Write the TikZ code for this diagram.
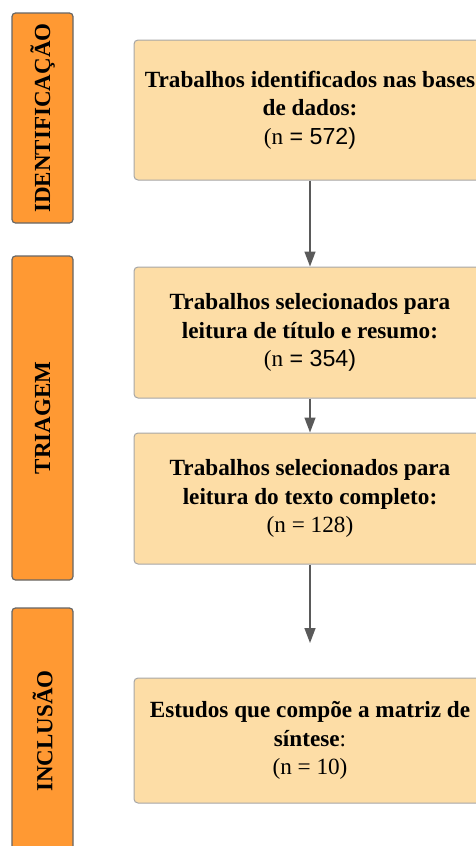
\documentclass[tikz,border=0pt]{standalone}
\usepackage{fontspec}
\setmainfont{Liberation Serif}
\newfontfamily\sansf{Liberation Sans}
\usetikzlibrary{arrows.meta}
\definecolor{phase}{HTML}{FF9933}
\definecolor{phaseline}{HTML}{666666}
\definecolor{boxfill}{HTML}{FDDDA6}
\definecolor{boxline}{HTML}{A6A6A6}
\definecolor{arrowc}{HTML}{5A5A5A}
\tikzset{
  phasebox/.style={draw=phaseline, fill=phase, line width=1.2pt, rounded corners=3.5pt,
    rotate=90, minimum height=61pt, inner sep=0pt,
    font=\fontsize{23}{28}\selectfont\bfseries},
  stagebox/.style={draw=boxline, fill=boxfill, line width=1pt, rounded corners=4pt,
    minimum width=352pt, inner sep=0pt, align=center,
    font=\fontsize{23.2}{28.5}\selectfont},
  flow/.style={draw=arrowc, line width=1.4pt, -{Triangle[length=15pt,width=11pt]}}
}
\begin{document}
\begin{tikzpicture}[x=1pt,y=-1pt]
\useasboundingbox (0,0) rectangle (476,846);
\clip (0,0) rectangle (476,846);
% phase labels
\node[phasebox, minimum width=210pt] (id) at (42.5,118) {IDENTIFICAÇÃO};
\node[phasebox, minimum width=324pt] (tri) at (42.5,418) {TRIAGEM};
\node[phasebox, minimum width=246pt] (inc) at (42.5,731) {INCLUSÃO};
% stage boxes
\node[stagebox, minimum height=140pt] (b1) at (310,110)
  {\textbf{Trabalhos identificados nas bases}\\ \textbf{de dados:}\\ (n{\sansf{} = 572)}};
\node[stagebox, minimum height=131pt] (b2) at (310,332.5)
  {\textbf{Trabalhos selecionados para}\\ \textbf{leitura de título e resumo:}\\ (n{\sansf{} = 354)}};
\node[stagebox, minimum height=131pt] (b3) at (310,498.5)
  {\textbf{Trabalhos selecionados para}\\ \textbf{leitura do texto completo:}\\ (n = 128)};
\node[stagebox, minimum height=125pt] (b4) at (310,740.5)
  {\textbf{Estudos que compõe a matriz de}\\ \textbf{síntese}:\\ (n = 10)};
\coordinate (e3) at (310,643);
% connectors
\draw[flow] (b1.south) -- (b2.north);
\draw[flow] (b2.south) -- (b3.north);
\draw[flow] (b3.south) -- (e3);
\end{tikzpicture}
\end{document}
